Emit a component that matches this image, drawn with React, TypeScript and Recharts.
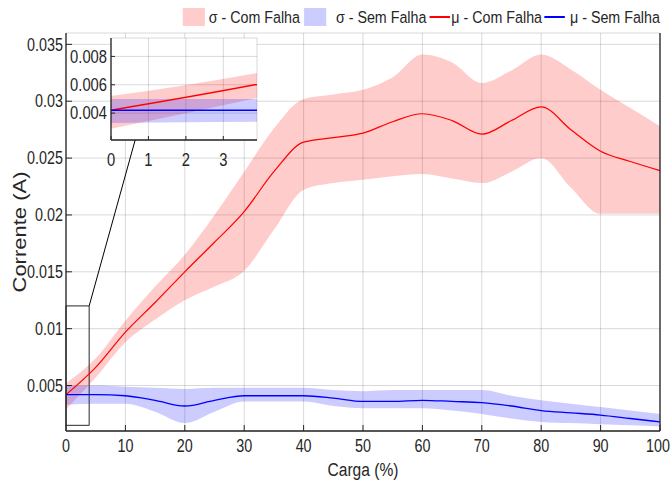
import React from 'react';
import {
  ComposedChart,
  Area,
  Line,
  XAxis,
  YAxis,
  CartesianGrid,
  ReferenceArea,
  ReferenceLine,
} from 'recharts';

// carga (%) sampled every 5 points
const LOADS = [0, 5, 10, 15, 20, 25, 30, 35, 40, 45, 50, 55, 60, 65, 70, 75, 80, 85, 90, 95, 100];

// μ / σ band - Com Falha
const MU_COM = [0.0042, 0.0066, 0.0097, 0.0123, 0.015, 0.0176, 0.0203, 0.0238, 0.0264, 0.0268, 0.0272, 0.0282, 0.0289, 0.0283, 0.0271, 0.0283, 0.0295, 0.0275, 0.0256, 0.0247, 0.0239];
const SIG_COM_LO = [0.0029, 0.0057, 0.0088, 0.0108, 0.0125, 0.0137, 0.0151, 0.0187, 0.0222, 0.0228, 0.0231, 0.0234, 0.0236, 0.0232, 0.0228, 0.0238, 0.025, 0.0224, 0.0201, 0.0201, 0.0201];
const SIG_COM_HI = [0.0052, 0.0074, 0.0107, 0.0137, 0.0165, 0.02, 0.0238, 0.0276, 0.0302, 0.0306, 0.031, 0.0321, 0.0341, 0.0334, 0.0316, 0.0327, 0.0341, 0.0328, 0.031, 0.0294, 0.0278];

// μ / σ band - Sem Falha
const MU_SEM = [0.0042, 0.0042, 0.0041, 0.0037, 0.0032, 0.0037, 0.0041, 0.0041, 0.0041, 0.0039, 0.0036, 0.0036, 0.0037, 0.0036, 0.0035, 0.0032, 0.0028, 0.0026, 0.0024, 0.0021, 0.0018];
const SIG_SEM_LO = [0.0033, 0.0034, 0.0034, 0.0027, 0.0017, 0.0027, 0.0036, 0.0036, 0.0036, 0.0032, 0.003, 0.003, 0.003, 0.0028, 0.0025, 0.0021, 0.0018, 0.0017, 0.0016, 0.0015, 0.0014];
const SIG_SEM_HI = [0.005, 0.005, 0.0049, 0.0048, 0.0047, 0.0048, 0.0048, 0.0048, 0.0048, 0.0046, 0.0045, 0.0046, 0.0046, 0.0046, 0.0046, 0.0041, 0.0037, 0.0034, 0.0031, 0.0028, 0.0025];

const X_TICKS = [0, 10, 20, 30, 40, 50, 60, 70, 80, 90, 100];
const Y_TICKS = [0.005, 0.01, 0.015, 0.02, 0.025, 0.03, 0.035];
const INSET_X_TICKS = [0, 1, 2, 3];
const INSET_Y_TICKS = [0.004, 0.006, 0.008];

const LEGEND = [
  { label: 'σ - Com Falha', kind: 'patch', color: 'rgba(255,0,0,0.2)' },
  { label: 'σ - Sem Falha', kind: 'patch', color: 'rgba(0,0,255,0.2)' },
  { label: 'μ - Com Falha', kind: 'line', color: '#ff0000' },
  { label: 'μ - Sem Falha', kind: 'line', color: '#0000ff' },
];

const rows = LOADS.map((carga, i) => ({
  carga,
  muCom: MU_COM[i],
  bandCom: [SIG_COM_LO[i], SIG_COM_HI[i]],
  muSem: MU_SEM[i],
  bandSem: [SIG_SEM_LO[i], SIG_SEM_HI[i]],
}));

const FONT = "'Liberation Sans', Arial, sans-serif";
const SQUEEZE = 0.82; // the original figure is horizontally compressed
const AXIS = '#262626';
const GRID = 'rgba(0,0,0,0.15)';

// tick label drawn with a horizontal squeeze
const NarrowTick = (props: any) => {
  const { x, y, payload, textAnchor, dyEm, size } = props;
  return (
    <g transform={`translate(${x},${y}) scale(${SQUEEZE},1)`}>
      <text x={0} y={0} dy={dyEm} textAnchor={textAnchor} fill={AXIS} fontSize={size} fontFamily={FONT}>
        {payload.value}
      </text>
    </g>
  );
};

const YLabel = ({ viewBox }: any) => {
  const cx = viewBox.x + 20;
  const cy = viewBox.y + viewBox.height / 2;
  return (
    <g transform={`translate(${cx},${cy}) scale(${SQUEEZE},1) rotate(-90)`}>
      <text x={0} y={0} textAnchor="middle" dy="0.35em" fill={AXIS} fontSize={22} fontFamily={FONT}>
        Corrente (A)
      </text>
    </g>
  );
};

const XLabel = ({ viewBox }: any) => (
  <g transform={`translate(${viewBox.x + viewBox.width / 2},${viewBox.y + 38}) scale(${SQUEEZE},1)`}>
    <text x={0} y={0} dy="0.35em" textAnchor="middle" fill={AXIS} fontSize={19} fontFamily={FONT}>
      Carga (%)
    </text>
  </g>
);

function LegendRow() {
  const k = 1 / SQUEEZE;
  const gaps = [
    [0, 4],
    [4, 10],
    [3, 1],
    [2, 5],
  ];
  return (
    <div
      style={{
        position: 'absolute',
        top: 7,
        right: 10,
        display: 'flex',
        alignItems: 'center',
        fontFamily: FONT,
        fontSize: 17.4,
        color: AXIS,
        whiteSpace: 'nowrap',
        lineHeight: '20px',
        transform: `scaleX(${SQUEEZE})`,
        transformOrigin: 'right center',
      }}
    >
      {LEGEND.map((item, i) => (
        <React.Fragment key={item.label}>
          <span
            style={{
              width: (item.kind === 'patch' ? 22 : 21) * k,
              height: item.kind === 'patch' ? 18 : 1.5,
              background: item.color,
              marginLeft: gaps[i][0] * k,
              marginRight: gaps[i][1] * k,
            }}
          />
          <span>{item.label}</span>
        </React.Fragment>
      ))}
    </div>
  );
}

export default function App() {
  return (
    <div style={{ position: 'absolute', left: 0, top: 0, width: 670, height: 491, background: '#fff', overflow: 'hidden' }}>
      <div style={{ position: 'absolute', left: 0, top: 0 }}>
        <ComposedChart width={670} height={491} data={rows} margin={{ top: 33, right: 0, bottom: 0, left: 0 }}>
          <XAxis
            dataKey="carga"
            type="number"
            domain={[0, 100]}
            ticks={X_TICKS}
            height={60}
            tick={<NarrowTick dyEm="0.71em" size={17.5} />}
            tickSize={-6}
            tickMargin={15}
            axisLine={{ stroke: AXIS, strokeWidth: 1.3 }}
            tickLine={{ stroke: AXIS }}
            label={<XLabel />}
          />
          <XAxis
            xAxisId="top"
            orientation="top"
            dataKey="carga"
            type="number"
            domain={[0, 100]}
            ticks={X_TICKS}
            height={0}
            tick={false}
            tickSize={-6}
            axisLine={{ stroke: AXIS, strokeWidth: 1.3 }}
            tickLine={{ stroke: AXIS }}
          />
          <YAxis
            type="number"
            domain={[0.001, 0.036]}
            ticks={Y_TICKS}
            width={66}
            tick={<NarrowTick dyEm="0.35em" size={17.5} />}
            tickSize={-6}
            tickMargin={9}
            axisLine={{ stroke: AXIS, strokeWidth: 1.3 }}
            tickLine={{ stroke: AXIS }}
            label={<YLabel />}
          />
          <YAxis
            yAxisId="right"
            orientation="right"
            type="number"
            domain={[0.001, 0.036]}
            ticks={Y_TICKS}
            width={10}
            tick={false}
            tickSize={-6}
            axisLine={{ stroke: AXIS, strokeWidth: 1.3 }}
            tickLine={{ stroke: AXIS }}
          />
          <Area dataKey="bandCom" type="monotone" stroke="none" fill="#ff0000" fillOpacity={0.2} isAnimationActive={false} />
          <Area dataKey="bandSem" type="monotone" stroke="none" fill="#0000ff" fillOpacity={0.2} isAnimationActive={false} />
          <Line dataKey="muCom" type="monotone" stroke="#ff0000" strokeWidth={1.2} dot={false} activeDot={false} isAnimationActive={false} />
          <Line dataKey="muSem" type="monotone" stroke="#0000ff" strokeWidth={1.3} dot={false} activeDot={false} isAnimationActive={false} />
          <CartesianGrid stroke={GRID} />
          <ReferenceArea x1={0} x2={3.9} y1={0.0015} y2={0.012} fill="none" stroke={AXIS} strokeWidth={1} ifOverflow="visible" />
          <ReferenceLine
            segment={[
              { x: 3.9, y: 0.012 },
              { x: 11.65, y: 0.0266 },
            ]}
            stroke="#000"
            strokeWidth={1}
            ifOverflow="visible"
          />
        </ComposedChart>
      </div>

      {/* zoomed inset, 0-3.9 % */}
      <div style={{ position: 'absolute', left: 0, top: 0 }}>
        <ComposedChart width={270} height={180} data={rows} margin={{ top: 38, right: 13, bottom: 0, left: 66 }}>
          <CartesianGrid fill="#fff" fillOpacity={1} stroke={GRID} />
          <XAxis
            dataKey="carga"
            type="number"
            domain={[0, 3.9]}
            allowDataOverflow
            ticks={INSET_X_TICKS}
            height={40}
            tick={<NarrowTick dyEm="0.71em" size={18} />}
            tickSize={-4}
            tickMargin={17}
            axisLine={{ stroke: AXIS, strokeWidth: 1.3 }}
            tickLine={{ stroke: AXIS }}
          />
          <XAxis
            xAxisId="top"
            orientation="top"
            dataKey="carga"
            type="number"
            domain={[0, 3.9]}
            allowDataOverflow
            ticks={INSET_X_TICKS}
            height={0}
            tick={false}
            tickSize={-4}
            axisLine={{ stroke: AXIS, strokeWidth: 1.3 }}
            tickLine={{ stroke: AXIS }}
          />
          <YAxis
            type="number"
            domain={[0.0021, 0.0093]}
            allowDataOverflow
            ticks={INSET_Y_TICKS}
            width={45}
            tick={<NarrowTick dyEm="0.35em" size={18} />}
            tickSize={-4}
            tickMargin={8}
            axisLine={{ stroke: AXIS, strokeWidth: 1.3 }}
            tickLine={{ stroke: AXIS }}
          />
          <YAxis
            yAxisId="right"
            orientation="right"
            type="number"
            domain={[0.0021, 0.0093]}
            allowDataOverflow
            ticks={INSET_Y_TICKS}
            width={0}
            tick={false}
            tickSize={-4}
            axisLine={{ stroke: AXIS, strokeWidth: 1.3 }}
            tickLine={{ stroke: AXIS }}
          />
          <Area dataKey="bandCom" type="monotone" stroke="none" fill="#ff0000" fillOpacity={0.2} isAnimationActive={false} />
          <Area dataKey="bandSem" type="monotone" stroke="none" fill="#0000ff" fillOpacity={0.2} isAnimationActive={false} />
          <Line dataKey="muCom" type="monotone" stroke="#ff0000" strokeWidth={1.5} dot={false} activeDot={false} isAnimationActive={false} />
          <Line dataKey="muSem" type="monotone" stroke="#0000ff" strokeWidth={1.5} dot={false} activeDot={false} isAnimationActive={false} />
        </ComposedChart>
      </div>

      <LegendRow />
    </div>
  );
}
